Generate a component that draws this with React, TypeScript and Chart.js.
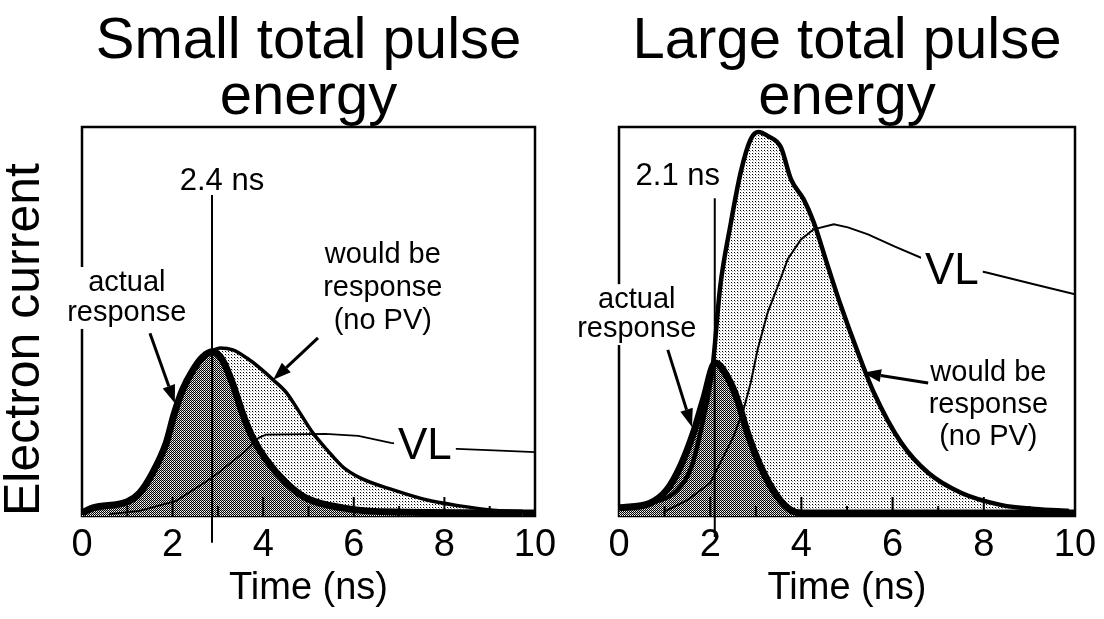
import React, { useEffect, useRef } from 'react';
import { Chart, registerables } from 'chart.js';

Chart.register(...registerables);

const FONT = "'Liberation Sans', Arial, Helvetica, sans-serif";

// ---- shared axis values ----
const timeTicks = [0, 2, 4, 6, 8, 10];
const minorTicks = [1, 2, 3, 4, 5, 6, 7, 8, 9];
const yAxisTitle = 'Electron current';
const xAxisTitle = 'Time (ns)';

// ---- Small total pulse energy ----
const smallTitle = ['Small total pulse', 'energy'];
const smallActualT = [0, 0.24, 0.99, 1.27, 1.56, 1.86, 2.03, 2.22, 2.45, 2.67, 2.89, 3.1, 3.32, 3.54, 3.76, 4.07, 4.51, 4.95, 5.75, 6.87, 9.73];
const smallActualI = [0.8, 2.1, 3.6, 5.9, 11.1, 18.8, 26, 32.4, 37.5, 40.9, 42.2, 40.1, 34.2, 26.5, 20.3, 14.4, 8.5, 4.6, 2.1, 1.0, 0.8];
const smallWouldT = [0, 0.24, 0.99, 1.27, 1.56, 1.86, 2.03, 2.22, 2.45, 2.67, 2.89, 3.05, 3.33, 3.64, 3.93, 4.22, 4.52, 4.81, 5.1, 5.41, 5.76, 6.14, 6.87, 7.62, 8.34, 9.07, 9.73];
const smallWouldI = [0.8, 2.1, 3.6, 5.9, 11.1, 18.8, 26, 32.4, 37.5, 40.9, 42.6, 43.2, 42.7, 40.6, 38, 35, 31.6, 26.5, 21.3, 17, 12.6, 9.8, 6.7, 4.1, 2.6, 1.5, 1.0];
const smallVLT = [0.6, 1.27, 2.08, 2.87, 3.62, 3.9, 4.06, 5.37, 6.1, 6.82, 7.4, 8.14, 9.23, 10];
const smallVLI = [0.5, 1.3, 3.9, 9.8, 16.8, 20.1, 20.9, 21.1, 20.6, 18.8, 17.8, 17.3, 16.8, 16.4];
const smallPeakLineT = 2.87;
const smallPeakLabel = '2.4 ns';

// ---- Large total pulse energy ----
const largeTitle = ['Large total pulse', 'energy'];
const largeActualT = [0, 0.68, 1.05, 1.34, 1.63, 1.85, 2.11, 2.38, 2.6, 2.82, 3.11, 3.48, 3.77, 4.0, 9.87];
const largeActualI = [2.1, 3.3, 6.7, 12.6, 21.3, 29.8, 39.3, 35.7, 29.8, 21.3, 12.6, 4.9, 1.5, 0.8, 0.8];
const largeWouldT = [0, 0.68, 1.28, 1.6, 1.85, 2.05, 2.22, 2.44, 2.67, 2.89, 3.06, 3.26, 3.55, 3.77, 4.05, 4.27, 4.58, 4.87, 5.24, 5.59, 6.19, 6.78, 7.51, 8.39, 9.12, 9.87];
const largeWouldI = [2.1, 3.3, 6.7, 13, 25, 38, 59, 74.5, 88.4, 96.9, 98.7, 97.7, 94.8, 86.6, 81.4, 75.5, 64.2, 53.9, 42, 31.7, 18.8, 11.1, 5.9, 2.8, 1.8, 1.3];
const largeVLT = [0.97, 1.5, 2.0, 2.51, 2.73, 2.89, 3.04, 3.26, 3.48, 3.7, 3.99, 4.27, 4.71, 5.02, 5.46, 6.04, 6.7, 7.4, 8.06, 9.12, 10];
const largeVLI = [1, 4.1, 8.5, 20.4, 27.3, 34.3, 42.8, 52.3, 59, 66, 71.1, 73.7, 75, 74.2, 72.4, 69.3, 66, 64.2, 62.6, 59.5, 57];
const largePeakLineT = 2.1;
const largePeakLabel = '2.1 ns';

type TextBlock = { lines: string[]; x: number; y: number; size: number; gap?: number; knockout?: boolean };
type Arrow = { from: [number, number]; to: [number, number] };
type Marks = { markerX: number; markerTop: number; markerBottom: number; blocks: TextBlock[]; arrows: Arrow[] };

const smallMarks: Marks = {
  markerX: smallPeakLineT,
  markerTop: 82.5,
  markerBottom: -6.9,
  blocks: [
    { lines: [smallPeakLabel], x: 3.09, y: 85.9, size: 31 },
    { lines: ['actual', 'response'], x: 0.99, y: 59.9, size: 29, gap: 30, knockout: true },
    { lines: ['would be', 'response', '(no PV)'], x: 6.64, y: 67.1, size: 29, gap: 33 },
    { lines: ['VL'], x: 7.57, y: 17.7, size: 44, knockout: true },
  ],
  arrows: [
    { from: [1.5, 47.0], to: [2.05, 29.0] },
    { from: [5.21, 45.8], to: [4.22, 35.0] },
  ],
};

const largeMarks: Marks = {
  markerX: largePeakLineT,
  markerTop: 81.7,
  markerBottom: -5.4,
  blocks: [
    { lines: [largePeakLabel], x: 1.29, y: 87.4, size: 31 },
    { lines: ['actual', 'response'], x: 0.39, y: 55.5, size: 29, gap: 29, knockout: true },
    { lines: ['would be', 'response', '(no PV)'], x: 8.1, y: 36.8, size: 29, gap: 32 },
    { lines: ['VL'], x: 7.3, y: 62.7, size: 44, knockout: true },
  ],
  arrows: [
    { from: [1.07, 42.7], to: [1.6, 22.9] },
    { from: [6.78, 34.2], to: [5.35, 36.8] },
  ],
};

function marksPlugin(m: Marks) {
  return {
    id: 'panelMarks',
    beforeDatasetsDraw(chart: any) {
      const { ctx, chartArea: a } = chart;
      ctx.save();
      ctx.strokeStyle = '#000';
      ctx.lineWidth = 2.5;
      ctx.strokeRect(a.left, a.top, a.right - a.left, a.bottom - a.top);
      ctx.lineWidth = 7;
      ctx.beginPath();
      ctx.moveTo(a.left, a.bottom - 3);
      ctx.lineTo(a.right, a.bottom - 3);
      ctx.stroke();
      ctx.restore();
    },
    afterDatasetsDraw(chart: any) {
      const { ctx, chartArea: a, scales } = chart;
      ctx.save();
      ctx.strokeStyle = '#000';
      ctx.lineWidth = 2;
      minorTicks.forEach((t) => {
        const px = scales.x.getPixelForValue(t);
        const len = t % 2 === 0 ? 19 : 10;
        ctx.beginPath();
        ctx.moveTo(px, a.bottom);
        ctx.lineTo(px, a.bottom - len);
        ctx.stroke();
      });
      ctx.restore();
    },
    afterDraw(chart: any) {
      const { ctx, scales } = chart;
      const X = (v: number) => scales.x.getPixelForValue(v);
      const Y = (v: number) => scales.y.getPixelForValue(v);
      ctx.save();
      ctx.strokeStyle = '#000';
      ctx.fillStyle = '#000';
      // peak marker line
      ctx.lineWidth = 2;
      const mx = X(m.markerX);
      ctx.beginPath();
      ctx.moveTo(mx, Y(m.markerTop));
      ctx.lineTo(mx, Y(m.markerBottom));
      ctx.stroke();
      // arrows
      m.arrows.forEach((ar) => {
        const x0 = X(ar.from[0]), y0 = Y(ar.from[1]);
        const x1 = X(ar.to[0]), y1 = Y(ar.to[1]);
        const ang = Math.atan2(y1 - y0, x1 - x0);
        const head = 18, hw = 6.5;
        const bx = x1 - head * Math.cos(ang), by = y1 - head * Math.sin(ang);
        ctx.lineWidth = 3;
        ctx.beginPath();
        ctx.moveTo(x0, y0);
        ctx.lineTo(bx, by);
        ctx.stroke();
        ctx.beginPath();
        ctx.moveTo(x1, y1);
        ctx.lineTo(bx + hw * Math.sin(ang), by - hw * Math.cos(ang));
        ctx.lineTo(bx - hw * Math.sin(ang), by + hw * Math.cos(ang));
        ctx.closePath();
        ctx.fill();
      });
      // text blocks
      m.blocks.forEach((b) => {
        ctx.font = `${b.size}px ${FONT}`;
        ctx.textAlign = 'center';
        ctx.textBaseline = 'middle';
        const px = X(b.x), py = Y(b.y);
        const gap = b.gap ?? b.size;
        if (b.knockout) {
          const w = Math.max(...b.lines.map((l) => ctx.measureText(l).width));
          ctx.fillStyle = '#fff';
          ctx.fillRect(px - w / 2 - 4, py - b.size * 0.55, w + 8, gap * (b.lines.length - 1) + b.size * 1.1);
        }
        ctx.fillStyle = '#000';
        b.lines.forEach((l, i) => ctx.fillText(l, px, py + i * gap));
      });
      ctx.restore();
    },
  };
}

function makePattern(ctx: CanvasRenderingContext2D, size: number, dots: [number, number, string][]) {
  const c = document.createElement('canvas');
  c.width = size;
  c.height = size;
  const g = c.getContext('2d')!;
  g.fillStyle = '#fff';
  g.fillRect(0, 0, size, size);
  dots.forEach(([x, y, col]) => {
    g.fillStyle = col;
    g.fillRect(x, y, 1, 1);
  });
  return ctx.createPattern(c, 'repeat')!;
}

const pts = (t: number[], v: number[]) => t.map((x, i) => ({ x, y: v[i] }));

function buildChart(
  canvas: HTMLCanvasElement,
  title: string[],
  actual: [number[], number[]],
  would: [number[], number[]],
  vl: [number[], number[]],
  marks: Marks,
  showYTitle: boolean,
  padding: { left: number; right: number },
  widths: { actual: number; would: number; vl: number }
) {
  const ctx = canvas.getContext('2d')!;
  const dark = makePattern(ctx, 2, [[0, 0, '#000'], [1, 1, '#000'], [1, 0, '#bbb']]);
  const light = makePattern(ctx, 3, [[0, 0, '#000'], [1, 1, '#aaa']]);
  const actualPts = pts(actual[0], actual[1]);
  const wouldPts = pts(would[0], would[1]);
  const vlPts = pts(vl[0], vl[1]);
  const none = 'rgba(0,0,0,0)';
  return new Chart(canvas, {
    type: 'line',
    data: {
      datasets: [
        { label: 'actual response', data: actualPts, borderColor: '#000', borderWidth: widths.actual, fill: false, cubicInterpolationMode: 'monotone', pointRadius: 0, order: 1 },
        { label: 'would be response (no PV)', data: wouldPts, borderColor: '#000', borderWidth: widths.would, fill: false, cubicInterpolationMode: 'monotone', pointRadius: 0, order: 2 },
        { label: 'VL', data: vlPts, borderColor: '#000', borderWidth: widths.vl, fill: false, tension: 0, pointRadius: 0, order: 3 },
        { label: 'actual fill', data: actualPts, borderColor: none, borderWidth: 1, backgroundColor: dark, fill: 'origin', cubicInterpolationMode: 'monotone', pointRadius: 0, order: 4 },
        { label: 'would fill', data: wouldPts, borderColor: none, borderWidth: 1, backgroundColor: light, fill: 'origin', cubicInterpolationMode: 'monotone', pointRadius: 0, order: 5 },
      ] as any,
    },
    options: {
      animation: false,
      responsive: false,
      events: [],
      layout: { padding: { left: padding.left, right: padding.right, top: 0, bottom: 0 } },
      plugins: {
        legend: { display: false },
        tooltip: { enabled: false },
        title: {
          display: true,
          text: title,
          fullSize: false,
          color: '#000',
          font: { family: FONT, size: 58, weight: 'normal', lineHeight: 56 / 58 },
          padding: { top: 14, bottom: 1 },
        },
      },
      scales: {
        x: {
          type: 'linear',
          min: 0,
          max: 10,
          afterBuildTicks: (s: any) => {
            s.ticks = timeTicks.map((v) => ({ value: v }));
          },
          grid: { display: false, drawTicks: false },
          border: { display: false },
          ticks: {
            color: '#000',
            padding: 11,
            maxRotation: 0,
            autoSkip: false,
            font: { family: FONT, size: 38, lineHeight: 1 },
          },
          title: {
            display: true,
            text: xAxisTitle,
            color: '#000',
            font: { family: FONT, size: 38, lineHeight: 1 },
            padding: { top: -6, bottom: 11 },
          },
        },
        y: {
          type: 'linear',
          min: 0,
          max: 100,
          display: showYTitle,
          grid: { display: false, drawTicks: false },
          border: { display: false },
          ticks: { display: false },
          title: {
            display: showYTitle,
            text: yAxisTitle,
            align: 'start',
            color: '#000',
            font: { family: FONT, size: 50, lineHeight: 1 },
            padding: { top: 0, bottom: 32 },
          },
        },
      },
    } as any,
    plugins: [marksPlugin(marks)],
  });
}

export default function App() {
  const leftRef = useRef<HTMLCanvasElement>(null);
  const rightRef = useRef<HTMLCanvasElement>(null);

  useEffect(() => {
    const charts: Chart[] = [];
    if (leftRef.current) {
      charts.push(
        buildChart(
          leftRef.current,
          smallTitle,
          [smallActualT, smallActualI],
          [smallWouldT, smallWouldI],
          [smallVLT, smallVLI],
          smallMarks,
          true,
          { left: 0, right: 45 },
          { actual: 7, would: 3.5, vl: 1.8 }
        )
      );
    }
    if (rightRef.current) {
      charts.push(
        buildChart(
          rightRef.current,
          largeTitle,
          [largeActualT, largeActualI],
          [largeWouldT, largeWouldI],
          [largeVLT, largeVLI],
          largeMarks,
          false,
          { left: 59, right: 61 },
          { actual: 7, would: 4.5, vl: 2 }
        )
      );
    }
    return () => charts.forEach((c) => c.destroy());
  }, []);

  return (
    <div style={{ position: 'fixed', left: 0, top: 0, width: 1104, height: 619, background: '#fff', overflow: 'hidden' }}>
      <canvas ref={leftRef} width={580} height={619} style={{ position: 'absolute', left: 0, top: 0 }} />
      <canvas ref={rightRef} width={576} height={619} style={{ position: 'absolute', left: 560, top: 0 }} />
    </div>
  );
}
